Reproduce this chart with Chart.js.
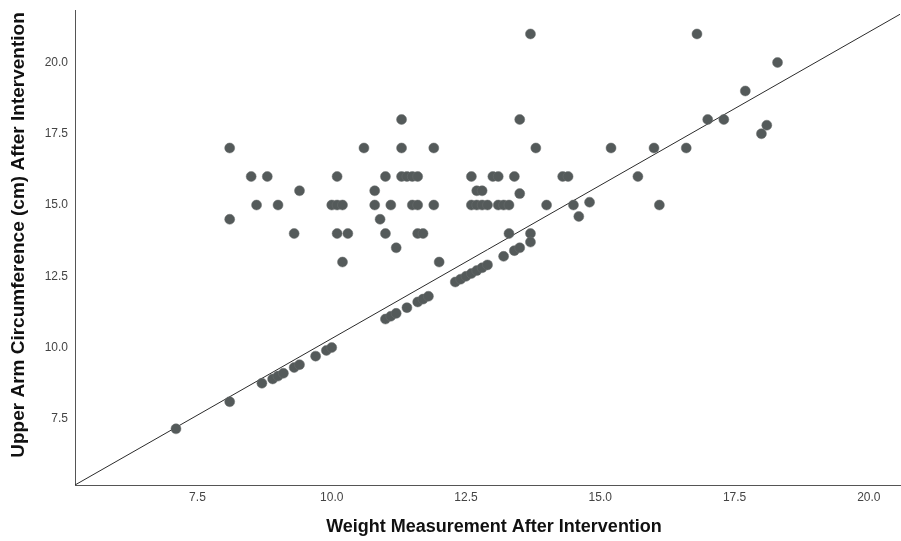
<!DOCTYPE html>
<html>
<head>
<meta charset="utf-8">
<script src="https://cdn.jsdelivr.net/npm/chart.js@4/dist/chart.umd.min.js"></script>
<style>
  html, body { margin: 0; padding: 0; background: #ffffff; }
  #wrap { width: 901px; height: 541px; }
</style>
</head>
<body>
<div id="wrap"><canvas id="c" width="901" height="541"></canvas></div>
<script>
// ---- data ----
const weightAfter = [
  13.7, 16.8,
  18.3,
  17.7,
  11.3, 13.5, 17.0, 17.3,
  18.1, 18.0,
  8.1, 10.6, 11.3, 11.9, 13.8, 15.2, 16.0, 16.6,
  8.5, 8.8, 10.1, 11.0, 11.3, 11.4, 11.5, 11.6, 12.6, 13.0, 13.1, 13.4, 14.3, 14.4, 15.7,
  9.4, 10.8, 12.7, 12.8,
  13.5,
  8.6, 9.0, 10.0, 10.1, 10.2, 10.8, 11.1, 11.5, 11.6, 11.9, 12.6, 12.7, 12.8, 12.9, 13.1, 13.2, 13.3, 14.0, 14.5, 16.1,
  14.8, 14.6,
  8.1, 10.9,
  9.3, 10.1, 10.3, 11.0, 11.6, 11.7, 13.3, 13.7,
  11.2,
  10.2, 12.0,
  7.1, 8.1, 8.7, 8.9, 9.0, 9.1, 9.3, 9.4, 9.7, 9.9, 10.0,
  11.0, 11.1, 11.2, 11.4, 11.6, 11.7, 11.8,
  12.3, 12.4, 12.5, 12.6, 12.7, 12.8, 12.9,
  13.2, 13.4, 13.5, 13.7
];
const armAfter = [
  21.0, 21.0,
  20.0,
  19.0,
  18.0, 18.0, 18.0, 18.0,
  17.8, 17.5,
  17.0, 17.0, 17.0, 17.0, 17.0, 17.0, 17.0, 17.0,
  16.0, 16.0, 16.0, 16.0, 16.0, 16.0, 16.0, 16.0, 16.0, 16.0, 16.0, 16.0, 16.0, 16.0, 16.0,
  15.5, 15.5, 15.5, 15.5,
  15.4,
  15.0, 15.0, 15.0, 15.0, 15.0, 15.0, 15.0, 15.0, 15.0, 15.0, 15.0, 15.0, 15.0, 15.0, 15.0, 15.0, 15.0, 15.0, 15.0, 15.0,
  15.1, 14.6,
  14.5, 14.5,
  14.0, 14.0, 14.0, 14.0, 14.0, 14.0, 14.0, 14.0,
  13.5,
  13.0, 13.0,
  7.15, 8.1, 8.75, 8.9, 9.0, 9.1, 9.3, 9.4, 9.7, 9.9, 10.0,
  11.0, 11.1, 11.2, 11.4, 11.6, 11.7, 11.8,
  12.3, 12.4, 12.5, 12.6, 12.7, 12.8, 12.9,
  13.2, 13.4, 13.5, 13.7
];
// reference line end points
const refLineX = [5.22, 20.58];
const refLineY = [5.18, 21.69];
// axes
const xRange = [5.22, 20.58];
const yRange = [5.18, 21.84];
const xTickValues = [7.5, 10.0, 12.5, 15.0, 17.5, 20.0];
const yTickValues = [7.5, 10.0, 12.5, 15.0, 17.5, 20.0];
const xTitle = 'Weight Measurement After Intervention';
const yTitle = 'Upper Arm Circumference (cm) After Intervention';

// ---- build ----
const points = weightAfter.map((x, i) => ({ x: x, y: armAfter[i] }));
const linePts = refLineX.map((x, i) => ({ x: x, y: refLineY[i] }));

// stretch the plot area to the right edge (Chart.js keeps a small right margin)
const fixArea = {
  id: 'fixArea',
  afterLayout(chart) {
    const x = chart.scales.x;
    const r = chart.width - 1;
    x.right = r;
    x.width = r - x.left;
    chart.chartArea.right = r;
    chart.chartArea.width = r - chart.chartArea.left;
    x.configure();
  }
};

const titlePlugin = {
  id: 'axisTitles',
  afterDraw(chart) {
    const ctx = chart.ctx;
    ctx.save();
    ctx.fillStyle = '#111111';
    ctx.textAlign = 'center';
    ctx.textBaseline = 'middle';
    ctx.font = 'bold 18px "Liberation Sans", Arial, sans-serif';
    ctx.fillText(xTitle, 494, 527);
    ctx.translate(19, 235);
    ctx.rotate(-Math.PI / 2);
    ctx.font = 'bold 19px "Liberation Sans", Arial, sans-serif';
    ctx.fillText(yTitle, 0, 0);
    ctx.restore();
  }
};

const tickFont = { family: '"Liberation Sans", Arial, sans-serif', size: 12 };

new Chart(document.getElementById('c'), {
  type: 'scatter',
  data: {
    datasets: [
      {
        type: 'line',
        data: linePts,
        borderColor: '#2b2b2b',
        borderWidth: 1,
        pointRadius: 0,
        fill: false,
        order: 2
      },
      {
        data: points,
        backgroundColor: '#545a5a',
        borderColor: '#6a6f6f',
        borderWidth: 0.5,
        pointRadius: 5,
        pointHoverRadius: 5,
        order: 1
      }
    ]
  },
  options: {
    responsive: false,
    animation: false,
    events: [],
    layout: { padding: { top: 10, right: 1, left: 0, bottom: 0 } },
    plugins: { legend: { display: false }, tooltip: { enabled: false } },
    scales: {
      x: {
        type: 'linear',
        min: xRange[0],
        max: xRange[1],
        grid: { display: false, drawTicks: false },
        border: { display: true, color: '#555555', width: 1 },
        ticks: {
          font: tickFont,
          color: '#444444',
          padding: 5,
          callback: v => Number(v).toFixed(1)
        },
        afterBuildTicks: s => { s.ticks = xTickValues.map(v => ({ value: v })); },
        afterFit: s => { s.height = 56; s.paddingLeft = 0; s.paddingRight = 0; }
      },
      y: {
        type: 'linear',
        min: yRange[0],
        max: yRange[1],
        grid: { display: false, drawTicks: false },
        border: { display: true, color: '#555555', width: 1 },
        ticks: {
          font: tickFont,
          color: '#444444',
          padding: 7,
          callback: v => Number(v).toFixed(1)
        },
        afterBuildTicks: s => { s.ticks = yTickValues.map(v => ({ value: v })); },
        afterFit: s => { s.width = 75; s.paddingTop = 0; s.paddingBottom = 0; }
      }
    }
  },
  plugins: [fixArea, titlePlugin]
});
</script>
</body>
</html>
